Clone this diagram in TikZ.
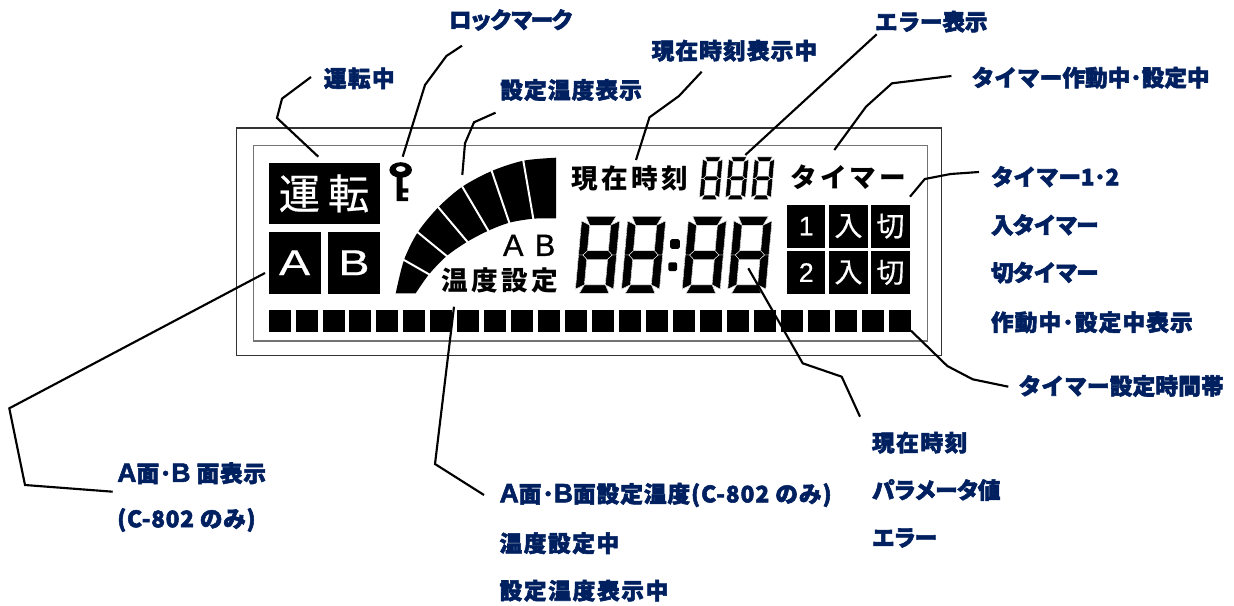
\documentclass[tikz,border=0pt]{standalone}
\usepackage{fontspec}
\usepackage{graphicx}
\setmainfont{Liberation Sans}
\newfontfamily\labelcjk{Noto Sans CJK JP}[BoldFeatures={FakeBold=2.4}]
\newfontfamily\labellatin{Liberation Sans}[FakeBold=2.2]
\newfontfamily\lcdcjk{Noto Sans CJK JP}
\newfontfamily\thincjk{Noto Sans CJK JP}[FakeBold=.4]
\newfontfamily\lcdlatin{Liberation Sans}[FakeBold=.5]
\newfontfamily\gaugelatin{Liberation Sans}[FakeBold=1]
\usetikzlibrary{calc,positioning}

\definecolor{labelblue}{RGB}{0,32,96}

\newcommand{\capAB}[1]{{\labellatin\fontsize{20}{20}\selectfont\bfseries #1}}

\tikzset{
    lbl/.style={anchor=west,inner sep=0pt,text=labelblue,
        font=\labelcjk\fontsize{17}{19}\selectfont\bfseries\addfontfeature{LetterSpace=#1}},
    lbl/.default=0,
    leader/.style={draw=black,line width=1.6pt,line join=miter},
    lcdbox/.style={fill=black,text=white,inner sep=0pt,anchor=north west},
    lcdword/.style={anchor=west,inner sep=0pt,text=black,
        font=\lcdcjk\fontsize{20}{22}\selectfont\bfseries\addfontfeature{LetterSpace=12}},
    barcell/.style={fill=black,inner sep=0pt,anchor=north west,minimum width=16.5pt,minimum height=16.8pt}
}

\newcommand{\lcddigit}[5]{%
    \begin{scope}[shift={(#1,#2)},xslant=.09]
        \pgfmathsetmacro\segW{#3}
        \pgfmathsetmacro\segH{#4}
        \pgfmathsetmacro\segT{#5}
        \pgfmathsetmacro\segC{\segT/2}
        \pgfmathsetmacro\segM{\segH/2}
        \tikzset{every path/.style={fill=black,draw=white,line width=.3pt}}
        \path (\segC,0) -- ({\segW-\segC},0) -- ({\segW-\segT},\segT) -- (\segT,\segT) -- cycle;
        \path (\segC,\segH) -- ({\segW-\segC},\segH) -- ({\segW-\segT},{\segH-\segT}) -- (\segT,{\segH-\segT}) -- cycle;
        \path (\segC,\segM) -- (\segT,{\segM-\segC}) -- ({\segW-\segT},{\segM-\segC}) -- ({\segW-\segC},\segM) -- ({\segW-\segT},{\segM+\segC}) -- (\segT,{\segM+\segC}) -- cycle;
        \path (0,\segC) -- (\segT,\segT) -- (\segT,{\segM-\segC}) -- (\segC,\segM) -- (0,\segM) -- cycle;
        \path (0,{\segH-\segC}) -- (\segT,{\segH-\segT}) -- (\segT,{\segM+\segC}) -- (\segC,\segM) -- (0,\segM) -- cycle;
        \path (\segW,\segC) -- ({\segW-\segT},\segT) -- ({\segW-\segT},{\segM-\segC}) -- ({\segW-\segC},\segM) -- (\segW,\segM) -- cycle;
        \path (\segW,{\segH-\segC}) -- ({\segW-\segT},{\segH-\segT}) -- ({\segW-\segT},{\segM+\segC}) -- ({\segW-\segC},\segM) -- (\segW,\segM) -- cycle;
    \end{scope}%
}

\begin{document}
\begin{tikzpicture}[x=.75pt,y=-.75pt]
    \useasboundingbox (0,0) rectangle (1234,606);

    \node (frameOuter) [draw=black!80,line width=.8pt,inner sep=0pt,anchor=north west,minimum width=528.8pt,minimum height=170.5pt] at (236,127.5) {};
    \node (frameInner) [draw=black!55,line width=1pt,inner sep=0pt,anchor=north west,minimum width=505.5pt,minimum height=146.5pt] at (252.7,145) {};

    \node (boxRun) [lcdbox,minimum width=83.2pt,minimum height=46.3pt,font=\thincjk\fontsize{31}{33}\selectfont] at (268.3,162.3) {運\hspace{6pt}転};
    \node (boxA) [lcdbox,minimum width=39pt,minimum height=46.2pt,font=\lcdlatin\fontsize{27}{28}\selectfont] at (268.3,231.7) {\scalebox{1.3}[1]{A}};
    \node (boxB) [lcdbox,minimum width=38.5pt,minimum height=46.2pt,font=\lcdlatin\fontsize{27}{28}\selectfont] at (328,231.7) {\scalebox{1.3}[1]{B}};

    \fill[even odd rule] (400.7,170) ellipse (11.3 and 7.8) (400.7,169) ellipse (5 and 3);
    \fill (396.5,176) rectangle (402.5,201) (402,188.3) rectangle (408.3,192.7) (402,197.3) rectangle (408,201);

    \fill plot[smooth] coordinates {(395.7,293.3) (404,260) (417.7,232.3) (438.3,207.3) (462.3,186.7) (491.7,171) (523.3,160.7) (556,157.7)}
        -- plot[smooth] coordinates {(556,218.3) (533.3,218.7) (509.3,222.7) (488.3,230.7) (467.3,241.7) (446.7,256) (429,274.3) (415.7,293.3)} -- cycle;
    \foreach \ox/\oy/\ix/\iy in {404/260/429/274.3,417.7/232.3/446.7/256,438.3/207.3/467.3/241.7,462.3/186.7/488.3/230.7,491.7/171/509.3/222.7,523.3/160.7/533.3/218.7}
        \draw[white,line width=1.5pt,shorten <=-3pt,shorten >=-3pt] (\ox,\oy) -- (\ix,\iy);

    \node (gaugeA) [inner sep=0pt,font=\gaugelatin\fontsize{23}{24}\selectfont] at (513.3,245.3) {A};
    \node (gaugeB) [inner sep=0pt,font=\gaugelatin\fontsize{23}{24}\selectfont] at (545,245.3) {B};
    \node (gaugeWord) [lcdword] at (441.7,280) {温度設定};
    \node (clockWord) [lcdword] at (571.7,178) {現在時刻};
    \node (timerWord) [lcdword] at (790,177) {タイマー};

    \foreach \dx in {703,729,754.7} \lcddigit{\dx}{157}{20}{42.7}{4.6}
    \foreach \dx in {582,628,688.7,734.3} \lcddigit{\dx}{216.7}{38}{76.6}{8.5}
    \node (colonTop) [fill=black,rounded corners=1pt,inner sep=0pt,minimum size=6.5pt] at (675,244) {};
    \node (colonBot) [fill=black,rounded corners=1pt,inner sep=0pt,minimum size=6.5pt] at (672.7,266.7) {};

    \foreach \tx/\ty/\tname/\ttext in {787/204.3/ta/1,787/250.7/tb/2}
        \node (\tname) [lcdbox,minimum width=28.5pt,minimum height=32.3pt,font=\lcdlatin\fontsize{20}{22}\selectfont] at (\tx,\ty) {\ttext};
    \foreach \tx/\ty/\tname/\ttext in {829/204.3/tc/入,871/204.3/te/切,829/250.7/td/入,871/250.7/tf/切}
        \node (\tname) [lcdbox,minimum width=28.8pt,minimum height=32.3pt,font=\thincjk\fontsize{21}{23}\selectfont] at (\tx,\ty) {\ttext};

    \foreach \i in {0,...,23}
        \node (cell\i) [barcell] at ({268.3+26.97*\i},309.3) {};

    \node (lblRun) [lbl=6] at (323.6,78.3) {運転中};
    \node (lblLock) [lbl=-10] at (448.7,20) {ロックマーク};
    \node (lblGauge) [lbl=5] at (500,90) {設定温度表示};
    \node (lblClockOn) [lbl=5] at (651.4,50.7) {現在時刻表示中};
    \node (lblError) [lbl=-1] at (874.8,21.7) {エラー表示};
    \node (lblTimerOn) [lbl=0] at (971.4,77.7) {タイマー作動中･設定中};
    \node (lblTimerA) [lbl=-1] at (990.7,176.7) {タイマー1･2};
    \node (lblTimerB) [lbl=-6] at (990.7,225) {入タイマー};
    \node (lblTimerC) [lbl=-6] at (990.7,272.7) {切タイマー};
    \node (lblTimerD) [lbl=5] at (990.7,322.3) {作動中･設定中表示};
    \node (lblBand) [lbl=.6] at (1018.3,386) {タイマー設定時間帯};
    \node (lblNowA) [lbl=7] at (871.7,442.7) {現在時刻};
    \node (lblNowB) [lbl=-6] at (871.7,490) {パラメータ値};
    \node (lblNowC) [lbl=-6] at (871.7,538) {エラー};
    \node (lblFaceA) [lbl=3.4] at (117,473.3) {\capAB{A}面･\capAB{B} 面表示};
    \node (lblFaceB) [lbl=3] at (117,520) {(C-802 のみ)};
    \node (lblSetA) [lbl=4.2] at (499.3,495) {\capAB{A}面･\capAB{B}面設定温度(C-802 のみ)};
    \node (lblSetB) [lbl=7] at (499.3,543.3) {温度設定中};
    \node (lblSetC) [lbl=7.5] at (499.3,590.7) {設定温度表示中};

    \coordinate (runS) at (311,77);
    \coordinate (runE) at (318.3,156.7);
    \coordinate (lockS) at (462,45.7);
    \coordinate (lockE) at (402.7,156.7);
    \coordinate (gaugeS) at (495.5,112.7);
    \coordinate (gaugeE) at (462.3,175);
    \coordinate (clockS) at (701.7,71.7);
    \coordinate (clockE) at (636,160);
    \coordinate (errS) at (876.7,34.3);
    \coordinate (errE) at (745.3,155);
    \coordinate (timerS) at (951.4,76);
    \coordinate (timerE) at (834.3,150);
    \coordinate (numS) at (979,172);
    \coordinate (numE) at (910,196.7);
    \coordinate (bandS) at (1008.3,386.7);
    \coordinate (bandE) at (911,330.7);
    \coordinate (nowS) at (860,416.7);
    \coordinate (nowE) at (748.3,268.3);
    \coordinate (faceS) at (112.7,491.7);
    \coordinate (faceE) at (265,273);
    \coordinate (setS) at (484,495);
    \coordinate (setE) at (454,306.7);

    \draw[leader] (runS) -- (282,98.7) -- (277,118) -- (runE);
    \draw[leader] (lockS) -- (446.4,56) -- (425,85) -- (lockE);
    \draw[leader] (gaugeS) -- (474,122.3) -- (465,143.3) -- (gaugeE);
    \draw[leader] (clockS) -- (679,96) -- (649.5,117.3) -- (clockE);
    \draw[leader] (errS) -- (errE);
    \draw[leader] (timerS) -- (892,83.3) -- (866,106.7) -- (timerE);
    \draw[leader] (numS) -- (950.6,174) -- (924.8,179) -- (numE);
    \draw[leader] (bandS) -- (972.7,379.3) -- (947.3,366) -- (bandE);
    \draw[leader] (nowS) -- (841.7,376.7) -- (802.7,363.3) -- (nowE);
    \draw[leader] (faceS) -- (25,485) -- (9.3,408.3) -- (faceE);
    \draw[leader] (setS) -- (435,464) -- (setE);
\end{tikzpicture}
\end{document}
